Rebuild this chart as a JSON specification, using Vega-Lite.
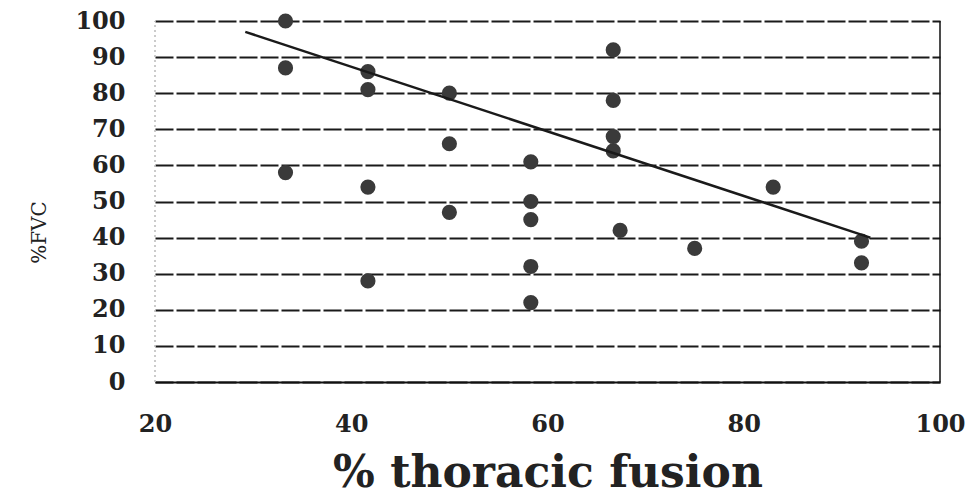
{
  "$schema": "https://vega.github.io/schema/vega-lite/v6.json",
  "autosize": {"type": "none"},
  "width": 785,
  "height": 361,
  "padding": {"left": 155, "top": 21, "right": 32, "bottom": 118},
  "background": "white",
  "config": {
    "view": {"stroke": null},
    "font": "DejaVu Serif"
  },
  "datasets": {
    "points": [
      {"fusion": 33.3, "fvc": 100},
      {"fusion": 33.3, "fvc": 87},
      {"fusion": 33.3, "fvc": 58},
      {"fusion": 41.7, "fvc": 86},
      {"fusion": 41.7, "fvc": 81},
      {"fusion": 41.7, "fvc": 54},
      {"fusion": 41.7, "fvc": 28},
      {"fusion": 50, "fvc": 80},
      {"fusion": 50, "fvc": 66},
      {"fusion": 50, "fvc": 47},
      {"fusion": 58.3, "fvc": 61},
      {"fusion": 58.3, "fvc": 50},
      {"fusion": 58.3, "fvc": 45},
      {"fusion": 58.3, "fvc": 32},
      {"fusion": 58.3, "fvc": 22},
      {"fusion": 66.7, "fvc": 92},
      {"fusion": 66.7, "fvc": 78},
      {"fusion": 66.7, "fvc": 68},
      {"fusion": 66.7, "fvc": 64},
      {"fusion": 67.4, "fvc": 42},
      {"fusion": 75, "fvc": 37},
      {"fusion": 83, "fvc": 54},
      {"fusion": 92, "fvc": 39},
      {"fusion": 92, "fvc": 33}
    ],
    "trend": [
      {"fusion": 29.2, "fvc": 97},
      {"fusion": 92.9, "fvc": 40}
    ],
    "edges": [
      {"fusion": 100, "fvc": 0, "hi": 100, "kind": "right"},
      {"fusion": 20, "fvc": 0, "hi": 100, "kind": "left"}
    ]
  },
  "encoding": {
    "x": {
      "field": "fusion", "type": "quantitative",
      "scale": {"domain": [20, 100], "nice": false},
      "axis": {
        "values": [20, 40, 60, 80, 100],
        "grid": false, "ticks": false, "labelFlush": false, "labelOverlap": false,
        "domain": true, "domainColor": "#111", "domainWidth": 2,
        "labelFont": "DejaVu Serif", "labelFontSize": 24, "labelFontWeight": "bold", "labelColor": "#222",
        "labelPadding": 30,
        "title": "% thoracic fusion",
        "titleFont": "DejaVu Serif", "titleFontSize": 44, "titleFontWeight": "bold", "titleColor": "#222",
        "titlePadding": 15
      }
    },
    "y": {
      "field": "fvc", "type": "quantitative",
      "scale": {"domain": [0, 100], "nice": false},
      "axis": {
        "values": [0, 10, 20, 30, 40, 50, 60, 70, 80, 90, 100],
        "grid": true, "gridColor": "#1a1a1a", "gridWidth": 1.8, "gridDash": [18, 3],
        "ticks": false, "domain": false, "labelFlush": false, "labelOverlap": false,
        "labelFont": "DejaVu Serif", "labelFontSize": 24, "labelFontWeight": "bold", "labelColor": "#222",
        "labelPadding": 30,
        "title": "%FVC",
        "titleFont": "DejaVu Serif", "titleFontSize": 20, "titleFontWeight": "normal", "titleColor": "#222",
        "titleX": -106, "titleY": 211
      }
    }
  },
  "layer": [
    {
      "data": {"name": "edges"},
      "mark": {"type": "rule", "strokeWidth": 1.5},
      "encoding": {
        "y2": {"field": "hi"},
        "color": {"field": "kind", "type": "nominal", "scale": {"domain": ["right", "left"], "range": ["#111", "#bbb"]}, "legend": null},
        "strokeDash": {"field": "kind", "type": "nominal", "scale": {"domain": ["right", "left"], "range": [[1, 0], [2, 3]]}, "legend": null}
      }
    },
    {
      "data": {"name": "points"},
      "mark": {"type": "circle", "size": 230, "opacity": 1, "color": "#3a3a3a"}
    },
    {
      "data": {"name": "trend"},
      "mark": {"type": "line", "color": "#1a1a1a", "strokeWidth": 2.5}
    }
  ]
}
